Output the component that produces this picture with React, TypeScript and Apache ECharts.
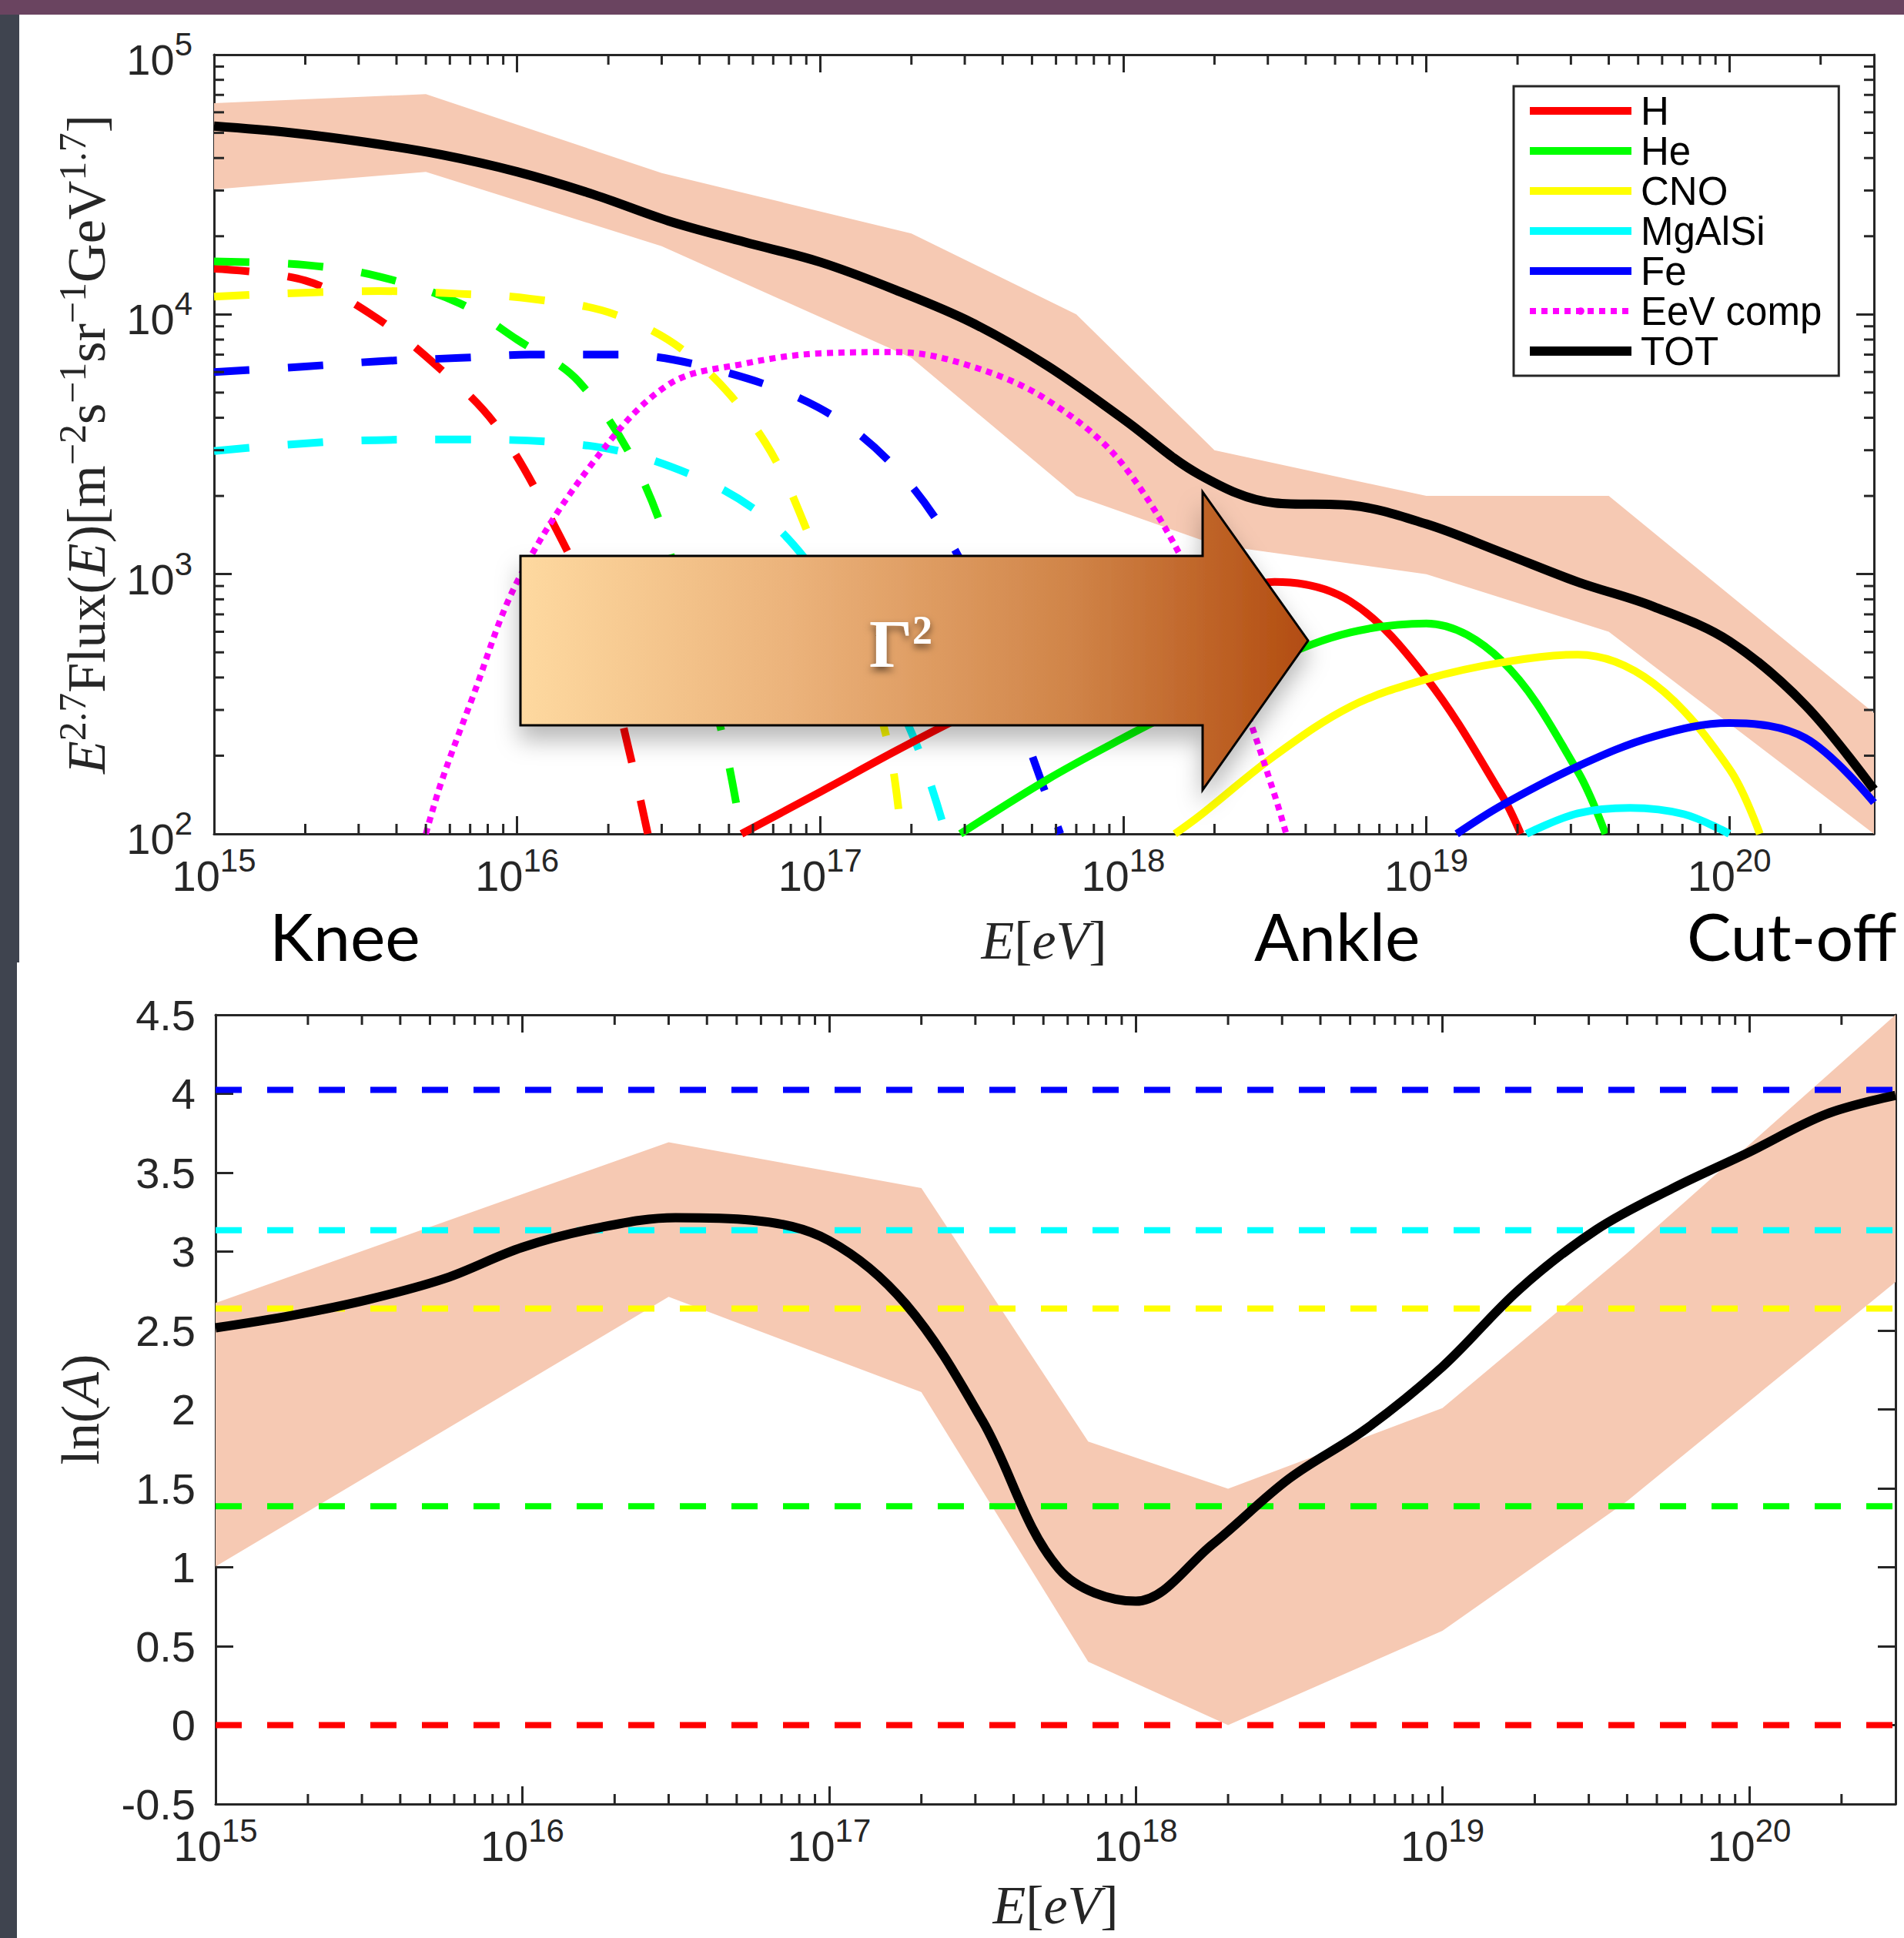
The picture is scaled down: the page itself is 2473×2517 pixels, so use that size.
import React, { useEffect, useRef } from 'react';
import * as echarts from 'echarts';

const CHART_W = 2473;
const CHART_H = 2517;

// Energy range shared by both panels (eV)
const E_MIN = 1e15;
const E_MAX = 3e20;

// ---------------- Upper panel: E^2.7 x flux ----------------
const FLUX_MIN = 1e2;
const FLUX_MAX = 1e5;

// Uncertainty band of the total flux
const FLUX_BAND_E = [1e15, 5e15, 3e16, 2e17, 7e17, 2e18, 1e19, 4e19, 3e20];
const FLUX_BAND_HI = [6.5e4, 7.05e4, 3.5e4, 2.05e4, 1.0e4, 3.0e3, 2.0e3, 2.0e3, 292];
const FLUX_BAND_LO = [3.03e4, 3.54e4, 1.83e4, 6.8e3, 2.0e3, 1.3e3, 1.0e3, 600, 100];

// Total flux
const TOT_E = [1e15, 1.78e15, 3.16e15, 5.62e15, 1e16, 1.78e16, 3.16e16, 5.62e16, 1e17, 1.78e17, 3.16e17, 5.62e17, 1e18, 1.78e18, 3.16e18, 5.62e18, 1e19, 1.78e19, 3.16e19, 5.62e19, 1e20, 1.78e20, 3e20];
const TOT_FLUX = [5.31e4, 5.01e4, 4.6e4, 4.12e4, 3.54e4, 2.9e4, 2.29e4, 1.9e4, 1.59e4, 1.24e4, 9.31e3, 6.34e3, 3.96e3, 2.42e3, 1.88e3, 1.84e3, 1.56e3, 1.21e3, 933, 750, 552, 313, 148];

// Galactic components (dashed)
const GAL_H_E = [1e15, 2e15, 3.3e15, 5.3e15, 8.5e15, 1.35e16, 1.8e16, 2.4e16, 2.7e16];
const GAL_H_F = [1.5e4, 1.35e4, 1.0e4, 6.5e3, 3.75e3, 1.48e3, 690, 185, 100];
const GAL_HE_E = [1e15, 2e15, 3.5e15, 6.5e15, 1e16, 1.6e16, 2.6e16, 3.8e16, 4.8e16, 5.5e16];
const GAL_HE_F = [1.6e4, 1.55e4, 1.4e4, 1.1e4, 8e3, 5.5e3, 2.3e3, 615, 230, 100];
const GAL_CNO_E = [1e15, 3.5e15, 6.5e15, 1.1e16, 2.1e16, 3.8e16, 6.6e16, 9.8e16, 1.4e17, 1.7e17, 1.85e17];
const GAL_CNO_F = [1.17e4, 1.23e4, 1.2e4, 1.15e4, 1e4, 6.8e3, 3.2e3, 1.18e3, 443, 206, 100];
const GAL_MGALSI_E = [1e15, 2.5e15, 6e15, 1.8e16, 3.8e16, 6.6e16, 9.8e16, 1.4e17, 2.05e17, 2.6e17];
const GAL_MGALSI_F = [2.98e3, 3.24e3, 3.3e3, 3.1e3, 2.4e3, 1.65e3, 1.0e3, 552, 230, 100];
const GAL_FE_E = [1e15, 2e15, 3.5e15, 6.5e15, 1.1e16, 2.2e16, 4.6e16, 9.8e16, 1.7e17, 2.7e17, 3.6e17, 4.8e17, 6.2e17];
const GAL_FE_F = [6.0e3, 6.3e3, 6.6e3, 6.8e3, 7e3, 7e3, 6.1e3, 4.4e3, 2.7e3, 1.32e3, 617, 230, 100];

// EeV component (dotted)
const EEV_E = [5e15, 5.62e15, 7.1e15, 1e16, 1.78e16, 3.16e16, 5.62e16, 1e17, 1.78e17, 3.16e17, 5.62e17, 1e18, 1.78e18, 2.5e18, 3.16e18, 3.45e18];
const EEV_F = [100, 158, 331, 933, 2.69e3, 5.37e3, 6.46e3, 7.08e3, 7.16e3, 6.31e3, 4.68e3, 2.63e3, 851, 316, 141, 100];

// Extragalactic components (solid)
const XG_H_E = [5.5e16, 1e17, 1.78e17, 3.16e17, 5.62e17, 1e18, 1.78e18, 3.16e18, 5.62e18, 1e19, 1.78e19, 2.05e19];
const XG_H_F = [100, 145, 209, 295, 407, 550, 741, 933, 785, 398, 140, 100];
const XG_HE_E = [2.9e17, 5.62e17, 1e18, 1.78e18, 3.16e18, 5.62e18, 1e19, 1.78e19, 3.16e19, 3.9e19];
const XG_HE_F = [100, 162, 234, 331, 468, 596, 646, 462, 174, 100];
const XG_CNO_E = [1.48e18, 1.78e18, 3.16e18, 5.62e18, 1e19, 1.78e19, 3.16e19, 5.62e19, 1e20, 1.26e20];
const XG_CNO_F = [100, 117, 200, 309, 394, 457, 490, 380, 178, 100];
const XG_MGALSI_E = [2.14e19, 3.16e19, 4.7e19, 7.1e19, 1e20];
const XG_MGALSI_F = [100, 120, 126, 119, 100];
const XG_FE_E = [1.26e19, 1.78e19, 3.16e19, 5.62e19, 1e20, 1.78e20, 3e20];
const XG_FE_F = [100, 129, 182, 237, 267, 234, 132];

// ---------------- Lower panel: ln(A) ----------------
const LNA_MIN = -0.5;
const LNA_MAX = 4.5;
const LNA_STEP = 0.5;

const LNA_BAND_E = [1e15, 3e16, 2e17, 7e17, 2e18, 1e19, 4e19, 3e20];
const LNA_BAND_HI = [2.674, 3.693, 3.403, 1.796, 1.498, 2.008, 2.99, 4.5];
const LNA_BAND_LO = [1.005, 2.713, 2.11, 0.401, 0.0, 0.597, 1.42, 2.807];

const LNA_E = [1e15, 1.78e15, 3.16e15, 5.62e15, 1e16, 1.78e16, 3.16e16, 5.62e16, 1e17, 1.78e17, 3.16e17, 5.62e17, 1e18, 1.78e18, 3.16e18, 5.62e18, 1e19, 1.78e19, 3.16e19, 5.62e19, 1e20, 1.78e20, 3e20];
const LNA_TOT = [2.517, 2.596, 2.697, 2.831, 3.027, 3.152, 3.215, 3.199, 3.07, 2.667, 1.93, 0.99, 0.785, 1.146, 1.561, 1.875, 2.27, 2.76, 3.136, 3.4, 3.63, 3.87, 3.99];

// ln(A) of each pure composition
const SPECIES = ['H', 'He', 'CNO', 'MgAlSi', 'Fe'];
const SPECIES_LNA = [0, 1.386, 2.639, 3.135, 4.025];
const SPECIES_COLORS = ['#ff0000', '#00ff00', '#ffff00', '#00ffff', '#0000ff'];

// Axis tick layout
const MINOR_STEPS = [2, 3, 4, 5, 6, 7, 8, 9];
const E_DECADES = [15, 16, 17, 18, 19, 20];
const FLUX_DECADES = [2, 3, 4];

const LEGEND_ITEMS = ['H', 'He', 'CNO', 'MgAlSi', 'Fe', 'EeV comp', 'TOT'];

// ---------------- Styling ----------------
const AXIS_COLOR = '#262626';
const BAND_COLOR = '#f6c9b3';
const SANS = 'Liberation Sans';
const SERIF = 'Liberation Serif';
const MAJOR_LEN = 23;
const MINOR_LEN = 13;
const SMOOTH = 0.35;

// axis indices: 0/1 = upper panel (main/mirror), 2/3 = lower panel (main/mirror)
const TOP = 0;
const BOTTOM = 2;

const GRID_TOP = { left: 278, top: 71, width: 2156, height: 1012 };
const GRID_BOTTOM = { left: 280, top: 1318, width: 2182, height: 1025 };

const minorValues = (decades: number[], max: number) => {
  const out: number[] = [];
  decades.forEach((d) => MINOR_STEPS.forEach((m) => {
    const v = m * Math.pow(10, d);
    if (v < max) out.push(v);
  }));
  return out;
};

const tickRich = {
  b: { fontSize: 56, fontFamily: SANS, color: AXIS_COLOR, verticalAlign: 'bottom' },
  s: { fontSize: 42, fontFamily: SANS, color: AXIS_COLOR, verticalAlign: 'top', padding: [0, 0, 27, 0] },
};

const nameRich = {
  i: { fontSize: 70, fontFamily: SERIF, fontStyle: 'italic', color: AXIS_COLOR, verticalAlign: 'bottom' },
  r: { fontSize: 70, fontFamily: SERIF, color: AXIS_COLOR, verticalAlign: 'bottom' },
  s: { fontSize: 50, fontFamily: SERIF, color: AXIS_COLOR, verticalAlign: 'top', padding: [0, 0, 28, 0] },
};

const powerLabel = (v: number) => {
  const e = Math.log10(v);
  const r = Math.round(e);
  return Math.abs(e - r) < 1e-6 ? `{b|10}{s|${r}}` : '';
};

const axisLineStyle = { show: true, onZero: false, lineStyle: { color: AXIS_COLOR, width: 3 } };
const majorTick = { show: true, inside: true, length: MAJOR_LEN, lineStyle: { color: AXIS_COLOR, width: 3 } };

function energyAxis(gridIndex: number, position: string, withLabels: boolean, nameGap: number) {
  return {
    type: 'log',
    logBase: 10,
    gridIndex,
    position,
    min: E_MIN,
    max: E_MAX,
    axisLine: axisLineStyle,
    axisTick: majorTick,
    axisLabel: { show: withLabels, formatter: powerLabel, rich: tickRich, margin: 13 },
    splitLine: { show: false },
    name: withLabels ? '{i|E}{r|[}{i|eV}{r|]}' : '',
    nameLocation: 'middle',
    nameGap,
    nameTextStyle: { rich: nameRich },
  };
}

function lineSeries(name: string, xs: number[], ys: number[], color: string, width: number, dash: any, axis: number, z = 3, smooth = SMOOTH) {
  return {
    type: 'line',
    name,
    xAxisIndex: axis,
    yAxisIndex: axis,
    data: xs.map((x, i) => [x, ys[i]]),
    symbol: 'none',
    showSymbol: false,
    smooth,
    color,
    lineStyle: { color, width, type: dash, cap: 'butt', join: 'round' },
    itemStyle: { color },
    silent: true,
    animation: false,
    z,
  };
}

function bandSeries(axis: number, es: number[], hi: number[], lo: number[], yRef: number) {
  return {
    type: 'custom',
    xAxisIndex: axis,
    yAxisIndex: axis,
    silent: true,
    z: 2,
    data: [[es[0], yRef]],
    renderItem: (_p: any, api: any) => {
      const pts: number[][] = [];
      es.forEach((e, i) => pts.push(api.coord([e, hi[i]])));
      for (let i = es.length - 1; i >= 0; i--) pts.push(api.coord([es[i], lo[i]]));
      return { type: 'polygon', shape: { points: pts }, style: { fill: BAND_COLOR } };
    },
  };
}

function xMinorTicks(axis: number, values: number[], yRef: number) {
  return {
    type: 'custom',
    xAxisIndex: axis,
    yAxisIndex: axis,
    silent: true,
    clip: false,
    z: 10,
    data: values.map((v) => [v, yRef]),
    renderItem: (params: any, api: any) => {
      const cs = params.coordSys;
      const x = api.coord([api.value(0), yRef])[0];
      const style = { stroke: AXIS_COLOR, lineWidth: 3 };
      return {
        type: 'group',
        children: [
          { type: 'line', shape: { x1: x, y1: cs.y + cs.height, x2: x, y2: cs.y + cs.height - MINOR_LEN }, style },
          { type: 'line', shape: { x1: x, y1: cs.y, x2: x, y2: cs.y + MINOR_LEN }, style },
        ],
      };
    },
  };
}

function yMinorTicks(axis: number, values: number[], xRef: number) {
  return {
    type: 'custom',
    xAxisIndex: axis,
    yAxisIndex: axis,
    silent: true,
    clip: false,
    z: 10,
    data: values.map((v) => [xRef, v]),
    renderItem: (params: any, api: any) => {
      const cs = params.coordSys;
      const y = api.coord([xRef, api.value(1)])[1];
      const style = { stroke: AXIS_COLOR, lineWidth: 3 };
      return {
        type: 'group',
        children: [
          { type: 'line', shape: { x1: cs.x, y1: y, x2: cs.x + MINOR_LEN, y2: y }, style },
          { type: 'line', shape: { x1: cs.x + cs.width, y1: y, x2: cs.x + cs.width - MINOR_LEN, y2: y }, style },
        ],
      };
    },
  };
}

function buildOption() {
  const GAL_DASH = [46, 50];
  const LNA_DASH = [34, 33];
  const W_COMP = 10;

  const galactic = [
    [GAL_H_E, GAL_H_F], [GAL_HE_E, GAL_HE_F], [GAL_CNO_E, GAL_CNO_F], [GAL_MGALSI_E, GAL_MGALSI_F], [GAL_FE_E, GAL_FE_F],
  ];
  const extragalactic = [
    [XG_H_E, XG_H_F], [XG_HE_E, XG_HE_F], [XG_CNO_E, XG_CNO_F], [XG_MGALSI_E, XG_MGALSI_F], [XG_FE_E, XG_FE_F],
  ];

  const series: any[] = [
    bandSeries(TOP, FLUX_BAND_E, FLUX_BAND_HI, FLUX_BAND_LO, 1000),
    ...galactic.map(([e, f], i) => lineSeries(`${SPECIES[i]} galactic`, e, f, SPECIES_COLORS[i], W_COMP, GAL_DASH, TOP)),
    ...extragalactic.map(([e, f], i) => lineSeries(SPECIES[i], e, f, SPECIES_COLORS[i], W_COMP, 'solid', TOP)),
    lineSeries('EeV comp', EEV_E, EEV_F, '#ff00ff', 8, [8, 7], TOP),
    lineSeries('TOT', TOT_E, TOT_FLUX, '#000000', 12, 'solid', TOP, 4),
    xMinorTicks(TOP, minorValues(E_DECADES, E_MAX), 1000),
    yMinorTicks(TOP, minorValues(FLUX_DECADES, FLUX_MAX), 1e16),
    bandSeries(BOTTOM, LNA_BAND_E, LNA_BAND_HI, LNA_BAND_LO, 1),
    ...SPECIES_LNA.map((v, i) => lineSeries(`${SPECIES[i]} lnA`, [E_MIN, E_MAX], [v, v], SPECIES_COLORS[i], 8, LNA_DASH, BOTTOM, 3, 0)),
    lineSeries('lnA total', LNA_E, LNA_TOT, '#000000', 12, 'solid', BOTTOM, 4),
    xMinorTicks(BOTTOM, minorValues(E_DECADES, E_MAX), 1),
  ];

  const arrowPts = [
    [676, 722], [1562, 722], [1562, 639], [1699, 832], [1562, 1026], [1562, 942], [676, 942],
  ];

  const featureText = (text: string, x: number) => ({
    type: 'text', z: 50, x, y: 1214,
    style: { text, fontSize: 86, fontFamily: 'Lato', fontWeight: 400, fill: '#000', align: 'left', verticalAlign: 'middle' },
  });

  return {
    animation: false,
    backgroundColor: '#3f444f',
    textStyle: { fontFamily: SANS },
    grid: [
      { ...GRID_TOP },
      { ...GRID_BOTTOM },
    ],
    xAxis: [
      energyAxis(0, 'bottom', true, 103),
      energyAxis(0, 'top', false, 0),
      energyAxis(1, 'bottom', true, 96),
      energyAxis(1, 'top', false, 0),
    ],
    yAxis: [
      {
        type: 'log', logBase: 10, gridIndex: 0, position: 'left', min: FLUX_MIN, max: FLUX_MAX,
        axisLine: axisLineStyle, axisTick: majorTick, splitLine: { show: false },
        axisLabel: { formatter: powerLabel, rich: tickRich, margin: 28 },
        name: '{i|E}{s|2.7}{r|Flux(}{i|E}{r|)[m}{s|−2}{r|s}{s|−1}{r|sr}{s|−1}{r|GeV}{s|1.7}{r|]}',
        nameLocation: 'middle', nameRotate: 90, nameGap: 131, nameTextStyle: { rich: nameRich },
      },
      {
        type: 'log', logBase: 10, gridIndex: 0, position: 'right', min: FLUX_MIN, max: FLUX_MAX,
        axisLine: axisLineStyle, axisTick: majorTick, splitLine: { show: false }, axisLabel: { show: false },
      },
      {
        type: 'value', gridIndex: 1, position: 'left', min: LNA_MIN, max: LNA_MAX, interval: LNA_STEP,
        axisLine: axisLineStyle, axisTick: majorTick, splitLine: { show: false },
        axisLabel: { fontSize: 56, fontFamily: SANS, color: AXIS_COLOR, margin: 26 },
        name: '{r|ln(}{i|A}{r|)}',
        nameLocation: 'middle', nameRotate: 90, nameGap: 141, nameTextStyle: { rich: nameRich },
      },
      {
        type: 'value', gridIndex: 1, position: 'right', min: LNA_MIN, max: LNA_MAX, interval: LNA_STEP,
        axisLine: axisLineStyle, axisTick: majorTick, splitLine: { show: false }, axisLabel: { show: false },
      },
    ],
    legend: {
      data: LEGEND_ITEMS,
      orient: 'vertical',
      left: 1966,
      top: 112,
      itemWidth: 132,
      itemHeight: 12,
      itemGap: 0,
      padding: [6, 22, 6, 15],
      backgroundColor: '#ffffff',
      borderColor: AXIS_COLOR,
      borderWidth: 3,
      borderRadius: 0,
      selectedMode: false,
      lineStyle: { width: 'inherit' },
      textStyle: { fontSize: 51, fontFamily: SANS, color: '#000000', lineHeight: 52, padding: [0, 0, 0, 7] },
      z: 20,
    },
    graphic: {
      elements: [
        // slide backdrop
        { type: 'rect', z: -100, shape: { x: 0, y: 0, width: CHART_W, height: 19 }, style: { fill: '#6a4460' } },
        { type: 'rect', z: -99, shape: { x: 25, y: 19, width: CHART_W - 25, height: 1231 }, style: { fill: '#ffffff' } },
        { type: 'rect', z: -99, shape: { x: 22, y: 1250, width: CHART_W - 22, height: CHART_H - 1250 }, style: { fill: '#ffffff' } },
        // Lorentz-factor arrow
        {
          type: 'polygon', z: 100,
          shape: { points: arrowPts },
          style: {
            fill: new echarts.graphic.LinearGradient(0, 0, 1, 0, [
              { offset: 0, color: '#fed9a0' },
              { offset: 0.35, color: '#ebb27a' },
              { offset: 0.7, color: '#d08448' },
              { offset: 1, color: '#b24c10' },
            ]),
            stroke: '#000000', lineWidth: 3,
            shadowBlur: 30, shadowOffsetY: 18, shadowColor: 'rgba(0,0,0,0.28)',
          },
        },
        {
          type: 'text', z: 101, x: 1170, y: 836,
          style: {
            text: '{g|Γ}{s|2}',
            align: 'center', verticalAlign: 'middle',
            rich: {
              g: { fontSize: 88, fontFamily: SERIF, fontWeight: 'bold', fill: '#ffffff', color: '#ffffff', verticalAlign: 'bottom' },
              s: { fontSize: 52, fontFamily: SERIF, fontWeight: 'bold', fill: '#ffffff', color: '#ffffff', verticalAlign: 'top', padding: [0, 0, 25, 0] },
            },
            textShadowColor: 'rgba(0,0,0,0.55)', textShadowBlur: 10, textShadowOffsetY: 5,
          },
        },
        // spectral features
        featureText('Knee', 350),
        featureText('Ankle', 1629),
        featureText('Cut-off', 2191),
      ],
    },
    series,
  };
}

export default function App() {
  const ref = useRef<HTMLDivElement>(null);
  useEffect(() => {
    if (!ref.current) return;
    const chart = echarts.init(ref.current, null, { renderer: 'svg', width: CHART_W, height: CHART_H });
    chart.setOption(buildOption() as any);
    return () => chart.dispose();
  }, []);
  return <div ref={ref} style={{ position: 'absolute', left: 0, top: 0, width: CHART_W, height: CHART_H }} />;
}
